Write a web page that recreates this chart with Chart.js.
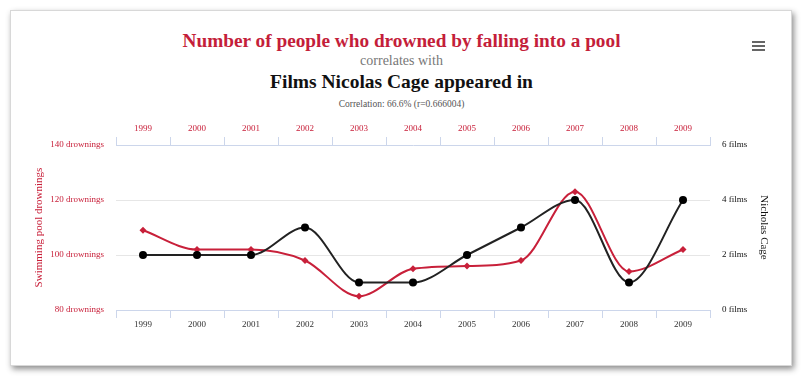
<!DOCTYPE html>
<html>
<head>
<meta charset="utf-8">
<script src="https://cdn.jsdelivr.net/npm/chart.js@4"></script>
<style>
  body { margin: 0; background: #fff; width: 803px; height: 380px; overflow: hidden; position: relative; font-family: "Liberation Serif", "Times New Roman", serif; }
  .card { position: absolute; left: 10px; top: 10px; width: 780px; height: 354px; background: #fff; border: 1px solid #d8d8d8; box-shadow: 2px 3px 6px rgba(0,0,0,0.45); }
  .titles { position: absolute; left: 0; top: 0; width: 803px; text-align: center; }
  .t1 { position: absolute; width: 100%; top: 30px; font-size: 19.3px; font-weight: bold; color: #c41e3a; }
  .t2 { position: absolute; width: 100%; top: 53px; font-size: 14px; color: #777; }
  .t3 { position: absolute; width: 100%; top: 71px; font-size: 19.5px; font-weight: bold; color: #111; }
  .t4 { position: absolute; width: 100%; top: 99px; font-size: 9.5px; color: #555; }
  .menu { position: absolute; left: 752px; top: 41px; width: 13px; }
  .menu div { height: 2px; background: #666; margin-bottom: 2px; }
  canvas { position: absolute; left: 0; top: 0; }
</style>
</head>
<body>
<div class="card"></div>
<div class="titles">
  <div class="t1">Number of people who drowned by falling into a pool</div>
  <div class="t2">correlates with</div>
  <div class="t3">Films Nicolas Cage appeared in</div>
  <div class="t4">Correlation: 66.6% (r=0.666004)</div>
</div>
<div class="menu"><div></div><div></div><div></div></div>
<div style="position:absolute;left:0;top:0;width:803px;height:380px;">
  <canvas id="myChart" width="803" height="380"></canvas>
</div>
<script>
const years = ["1999", "2000", "2001", "2002", "2003", "2004", "2005", "2006", "2007", "2008", "2009"];
const drownings = [109, 102, 102, 98, 85, 95, 96, 98, 123, 94, 102];
const cageFilms = [2, 2, 2, 3, 1, 1, 2, 3, 4, 1, 4];
const drowningTicks = [80, 100, 120, 140];
const filmTicks = [0, 2, 4, 6];

const red = "#c8203a";
const serif = "'Liberation Serif', 'Times New Roman', serif";
const axisBlue = "#ccd6eb";

const ctx = document.getElementById("myChart").getContext("2d");

new Chart(ctx, {
  type: "line",
  data: {
    labels: years,
    datasets: [
      {
        label: "Nicholas Cage",
        data: cageFilms,
        yAxisID: "y1",
        borderColor: "#222",
        backgroundColor: "#000",
        borderWidth: 2,
        pointRadius: 4,
        pointBorderWidth: 0,
        pointHoverRadius: 4,
        cubicInterpolationMode: "monotone",
      },
      {
        label: "Swimming pool drownings",
        data: drownings,
        yAxisID: "y",
        borderColor: red,
        backgroundColor: red,
        borderWidth: 2,
        pointStyle: "rectRot",
        pointRadius: 3.5,
        pointBorderWidth: 0,
        pointHoverRadius: 3.5,
        cubicInterpolationMode: "monotone",
      },
    ],
  },
  options: {
    responsive: false,
    animation: false,
    layout: { padding: 0 },
    plugins: {
      legend: { display: false },
      tooltip: { enabled: false },
    },
    scales: {
      x: {
        position: "bottom",
        offset: true,
        grid: { offset: true, drawOnChartArea: false, drawTicks: true, tickLength: 8, color: axisBlue },
        border: { display: true, color: axisBlue },
        ticks: { color: "#333", font: { family: serif, size: 9 }, padding: 1, maxRotation: 0 },
        afterFit: (scale) => { scale.height = 70; },
      },
      x2: {
        position: "top",
        type: "category",
        labels: years,
        offset: true,
        grid: { offset: true, drawOnChartArea: false, drawTicks: true, tickLength: 8, color: axisBlue },
        border: { display: true, color: axisBlue },
        ticks: { color: red, font: { family: serif, size: 9 }, padding: 3, maxRotation: 0 },
        afterFit: (scale) => { scale.height = 145; },
      },
      y: {
        position: "left",
        min: drowningTicks[0],
        max: drowningTicks[drowningTicks.length - 1],
        afterBuildTicks: (scale) => { scale.ticks = drowningTicks.map((v) => ({ value: v })); },
        grid: {
          drawTicks: false,
          color: (c) => (c.tick && (c.tick.value === 80 || c.tick.value === 140) ? "rgba(0,0,0,0)" : "#e6e6e6"),
        },
        border: { display: false },
        ticks: { color: red, font: { family: serif, size: 9 }, padding: 12, callback: (v) => v + " drownings" },
        title: { display: true, text: "Swimming pool drownings", color: red, font: { family: serif, size: 11 }, padding: { top: 33, bottom: 0 } },
        afterFit: (scale) => { scale.width = 116; },
      },
      y1: {
        position: "right",
        min: filmTicks[0],
        max: filmTicks[filmTicks.length - 1],
        afterBuildTicks: (scale) => { scale.ticks = filmTicks.map((v) => ({ value: v })); },
        grid: { drawOnChartArea: false, drawTicks: false },
        border: { display: false },
        ticks: { color: "#111", font: { family: serif, size: 9 }, padding: 12, callback: (v) => v + " films" },
        title: { display: true, text: "Nicholas Cage", color: "#111", font: { family: serif, size: 11 }, padding: { top: 33, bottom: 0 } },
        afterFit: (scale) => { scale.width = 93; },
      },
    },
  },
});
</script>
</body>
</html>
